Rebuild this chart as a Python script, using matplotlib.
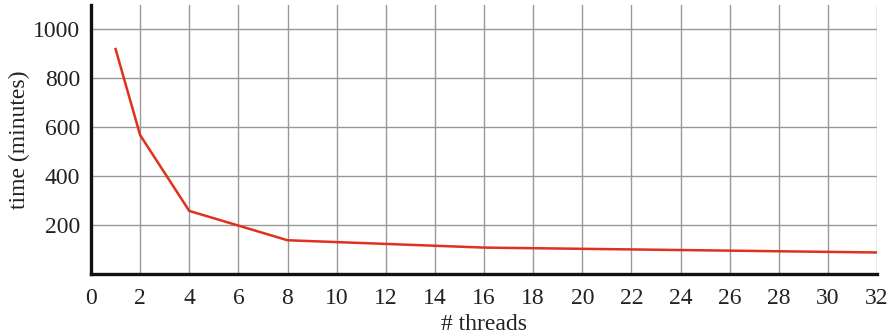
import matplotlib
matplotlib.use("Agg")
import matplotlib.pyplot as plt

# Run time versus number of threads
threads = [1, 2, 4, 8, 16, 32]
minutes = [920, 568, 258, 138, 108, 88]

x_ticks = list(range(0, 33, 2))
y_ticks = [200, 400, 600, 800, 1000]

plt.rcParams["font.family"] = ["Liberation Serif", "DejaVu Serif"]

fig = plt.figure(figsize=(8.92, 3.36), dpi=100)
ax = fig.add_axes([91 / 892, 62 / 336, (877 - 91) / 892, (274 - 5) / 336])

ax.plot(threads, minutes, color="#e0301e", linewidth=1.8, zorder=3)

ax.set_xlim(0, 32)
ax.set_ylim(0, 1100)
ax.set_xticks(x_ticks)
ax.set_yticks(y_ticks)
ax.tick_params(axis="both", length=0, labelsize=17, colors="#222222")
ax.tick_params(axis="x", pad=10)
ax.tick_params(axis="y", pad=8)
ax.grid(True, color="#999999", linewidth=1.0, zorder=0)
ax.set_axisbelow(True)

for side in ("top", "right"):
    ax.spines[side].set_visible(False)
for side in ("left", "bottom"):
    ax.spines[side].set_linewidth(2.4)
    ax.spines[side].set_color("#111111")

ax.set_xlabel("# threads", fontsize=17, color="#222222", labelpad=4)
ax.set_ylabel("time (minutes)", fontsize=17, color="#222222", labelpad=2)

fig.savefig("out.png", dpi=100)
